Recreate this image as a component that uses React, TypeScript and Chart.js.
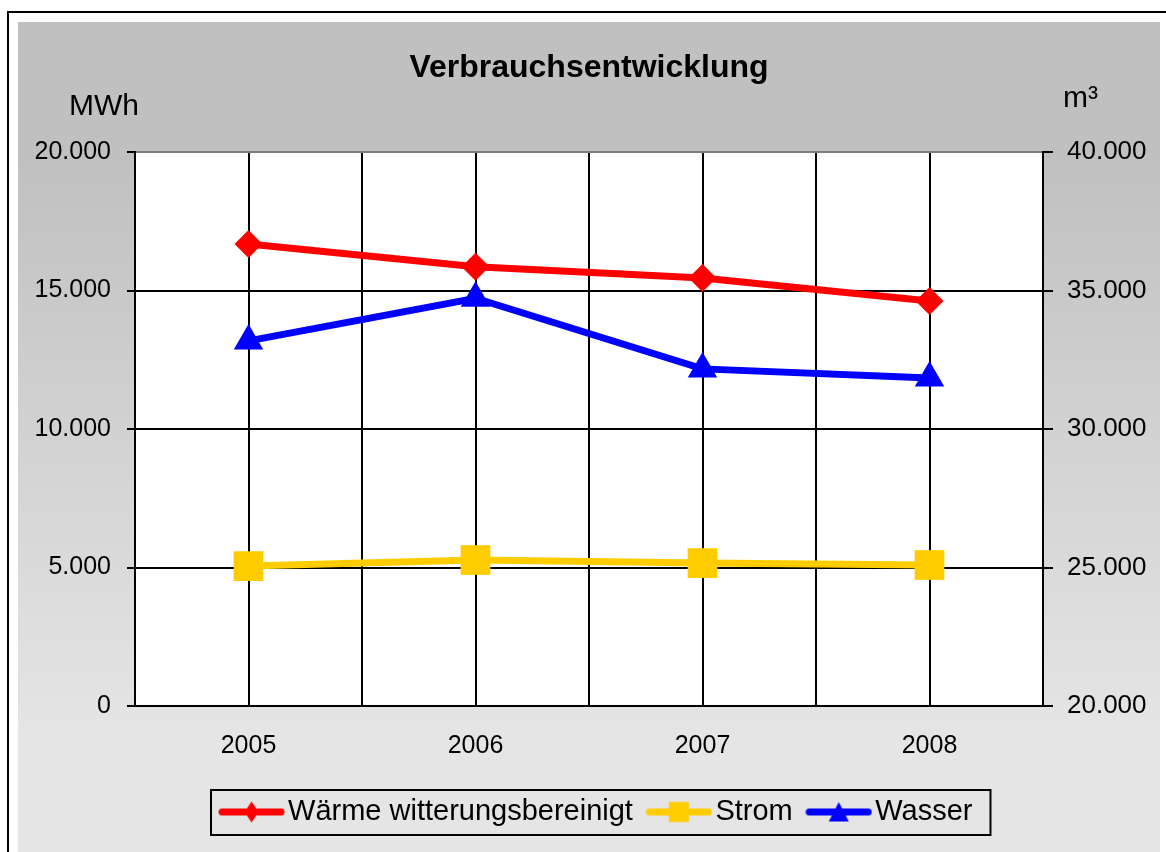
import React, { useEffect, useRef } from "react";
import { Chart, registerables } from "chart.js";

Chart.register(...registerables);

// ---- data ----
const years = ["2005", "2006", "2007", "2008"];
const waerme = [16680, 15860, 15450, 14620]; // MWh
const strom = [5050, 5270, 5160, 5090]; // MWh
const wasser = [33180, 34720, 32170, 31840]; // m³ (right axis)
const seriesNames = ["Wärme witterungsbereinigt", "Strom", "Wasser"];
const seriesColors = ["#FF0000", "#FFCC00", "#0000FF"];
const chartTitle = "Verbrauchsentwicklung";
const leftUnit = "MWh";
const rightUnit = "m³";
const leftRange = [0, 20000];
const rightRange = [20000, 40000];
const tickStep = 5000;

const FONT = "'Liberation Sans', Arial, Helvetica, sans-serif";

const fmt = (v: number) =>
  String(Math.round(v)).replace(/\B(?=(\d{3})+(?!\d))/g, ".");

function makeSymbol(color: string, kind: string): HTMLCanvasElement {
  const c = document.createElement("canvas");
  c.width = 67;
  c.height = 29;
  const g = c.getContext("2d")!;
  g.strokeStyle = color;
  g.lineWidth = 7;
  g.lineCap = "round";
  g.beginPath();
  g.moveTo(4, 14.5);
  g.lineTo(63, 14.5);
  g.stroke();
  g.fillStyle = color;
  g.beginPath();
  const cx = 33.5;
  const cy = 14.5;
  if (kind === "diamond") {
    g.moveTo(cx, cy - 10.5);
    g.lineTo(cx + 7, cy);
    g.lineTo(cx, cy + 10.5);
    g.lineTo(cx - 7, cy);
  } else if (kind === "square") {
    g.rect(cx - 10, cy - 10, 20, 20);
  } else {
    g.moveTo(cx, cy - 10);
    g.lineTo(cx + 10, cy + 9.5);
    g.lineTo(cx - 10, cy + 9.5);
  }
  g.closePath();
  g.fill();
  return c;
}

export default function App() {
  const ref = useRef<HTMLCanvasElement | null>(null);

  useEffect(() => {
    if (!ref.current) return;
    const symbols = [
      makeSymbol(seriesColors[0], "diamond"),
      makeSymbol(seriesColors[1], "square"),
      makeSymbol(seriesColors[2], "triangle"),
    ];

    const decor = {
      id: "decor",
      afterLayout(chart: any) {
        if (chart.legend) {
          chart.legend.left += 12;
          chart.legend.right += 12;
        }
      },
      beforeDraw(chart: any) {
        const { ctx, chartArea } = chart;
        ctx.save();
        ctx.fillStyle = "#FFFFFF";
        ctx.fillRect(
          chartArea.left,
          chartArea.top,
          chartArea.right - chartArea.left,
          chartArea.bottom - chartArea.top
        );
        ctx.restore();
      },
      afterDraw(chart: any) {
        const { ctx, chartArea } = chart;
        ctx.save();
        ctx.fillStyle = "#000";
        ctx.font = `30px ${FONT}`;
        ctx.textBaseline = "alphabetic";
        ctx.textAlign = "right";
        ctx.fillText(leftUnit, chartArea.left + 4, chartArea.top - 37);
        ctx.textAlign = "left";
        ctx.fillText(rightUnit, chartArea.right + 20, chartArea.top - 45);
        // legend frame
        const hb = chart.legend && chart.legend.legendHitBoxes;
        if (hb && hb.length) {
          const first = hb[0];
          const last = hb[hb.length - 1];
          const l = first.left - 18.5;
          const r = last.left + last.width + 18;
          const t = first.top - 7.5;
          const b = first.top + 37.5;
          ctx.strokeStyle = "#000";
          ctx.lineWidth = 2;
          ctx.strokeRect(l, t, r - l, b - t);
        }
        ctx.restore();
      },
    };

    const mk = (arr: number[]) => arr.map((v, i) => ({ x: i, y: v }));

    const chart = new Chart(ref.current, {
      type: "line",
      data: {
        datasets: [
          {
            label: seriesNames[0],
            data: mk(waerme),
            yAxisID: "y",
            borderColor: seriesColors[0],
            backgroundColor: seriesColors[0],
            borderWidth: 7,
            pointStyle: "rectRot",
            pointRadius: 14,
            pointBorderWidth: 0,
            pointBackgroundColor: seriesColors[0],
            tension: 0,
          },
          {
            label: seriesNames[1],
            data: mk(strom),
            yAxisID: "y",
            borderColor: seriesColors[1],
            backgroundColor: seriesColors[1],
            borderWidth: 7,
            pointStyle: "rect",
            pointRadius: 21,
            pointBorderWidth: 0,
            pointBackgroundColor: seriesColors[1],
            tension: 0,
          },
          {
            label: seriesNames[2],
            data: mk(wasser),
            yAxisID: "y1",
            borderColor: seriesColors[2],
            backgroundColor: seriesColors[2],
            borderWidth: 7,
            pointStyle: "triangle",
            pointRadius: 17,
            pointBorderWidth: 0,
            pointBackgroundColor: seriesColors[2],
            tension: 0,
          },
        ],
      },
      options: {
        animation: false,
        responsive: false,
        events: [],
        layout: { padding: { left: 0, right: 0, top: 0, bottom: 15.5 } },
        plugins: {
          title: {
            display: true,
            text: chartTitle,
            color: "#000",
            font: { family: FONT, size: 32, weight: "bold" },
            padding: { top: 27, bottom: 64.6 },
          },
          legend: {
            position: "bottom",
            labels: {
              usePointStyle: true,
              pointStyleWidth: 44,
              padding: 24,
              color: "#000",
              font: { family: FONT, size: 29 },
              generateLabels: (c: any) => {
                const items = (Chart.defaults as any).plugins.legend.labels.generateLabels(c);
                return items.map((it: any, i: number) => ({
                  ...it,
                  pointStyle: symbols[i],
                  lineWidth: 0,
                }));
              },
            },
          },
          tooltip: { enabled: false },
        },
        scales: {
          x: {
            type: "linear",
            position: "bottom",
            min: -0.5,
            max: years.length - 0.5,
            ticks: {
              stepSize: 0.5,
              autoSkip: false,
              maxRotation: 0,
              padding: 25,
              color: "#000",
              font: { family: FONT, size: 25 },
              callback: (v: any) =>
                Number.isInteger(v) && years[v] !== undefined ? years[v] : "",
            },
            grid: { color: "#000", lineWidth: 2, drawTicks: false },
            border: { color: "#000", width: 2 },
            afterFit: (s: any) => {
              s.height = 67.5;
            },
          },
          y: {
            type: "linear",
            position: "left",
            min: leftRange[0],
            max: leftRange[1],
            ticks: {
              stepSize: tickStep,
              padding: 16,
              color: "#000",
              font: { family: FONT, size: 25 },
              callback: (v: any) => fmt(v),
            },
            grid: {
              color: (ctx: any) =>
                ctx.tick && ctx.tick.value === leftRange[1] ? "#808080" : "#000",
              lineWidth: 2,
              tickLength: 8,
              tickColor: "#000",
            },
            border: { color: "#000", width: 2 },
            afterFit: (s: any) => {
              s.width = 117;
            },
          },
          y1: {
            type: "linear",
            position: "right",
            min: rightRange[0],
            max: rightRange[1],
            ticks: {
              stepSize: tickStep,
              padding: 14,
              color: "#000",
              font: { family: FONT, size: 26 },
              callback: (v: any) => fmt(v),
            },
            grid: {
              drawOnChartArea: false,
              lineWidth: 2,
              tickLength: 10,
              tickColor: "#000",
              color: "#000",
            },
            border: { color: "#000", width: 2 },
            afterFit: (s: any) => {
              s.width = 117;
            },
          },
        },
      } as any,
      plugins: [decor],
    });
    return () => chart.destroy();
  }, []);

  return (
    <div>
      <div
        style={{
          position: "absolute",
          left: 7,
          top: 11,
          width: 1200,
          height: 900,
          borderLeft: "2px solid #000",
          borderTop: "2px solid #000",
          boxSizing: "border-box",
        }}
      />
      <div
        style={{
          position: "absolute",
          left: 18,
          top: 22,
          width: 1142,
          height: 830,
          background:
            "linear-gradient(to bottom, #C0C0C0 0%, #C0C0C0 16%, #E5E5E5 86%, #E5E5E5 100%)",
        }}
      >
        <canvas
          ref={ref}
          width={1142}
          height={830}
          style={{ display: "block", width: 1142, height: 830 }}
        />
      </div>
    </div>
  );
}
